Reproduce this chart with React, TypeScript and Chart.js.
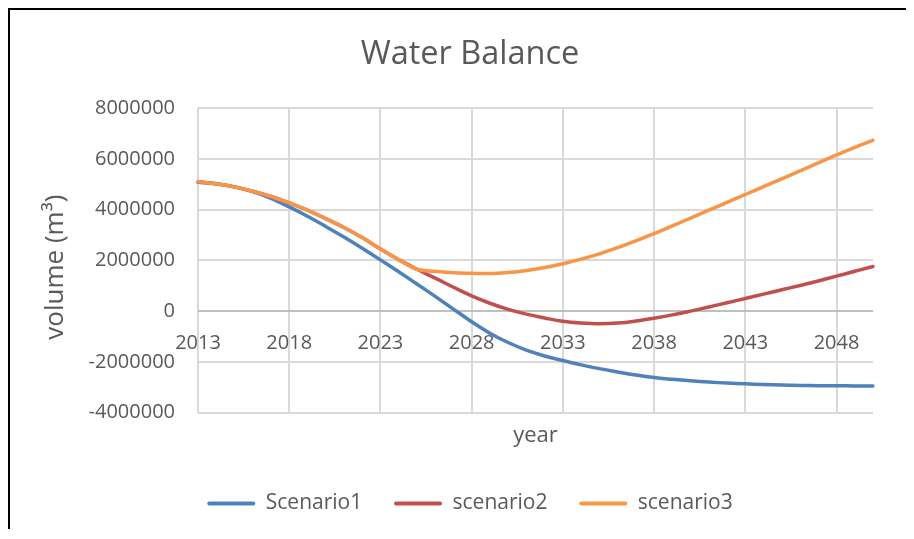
import React, { useEffect, useRef } from 'react';
import { Chart, registerables } from 'chart.js';

Chart.register(...registerables);

const years = [
  '2013', '2014', '2015', '2016', '2017', '2018', '2019', '2020', '2021', '2022',
  '2023', '2024', '2025', '2026', '2027', '2028', '2029', '2030', '2031', '2032',
  '2033', '2034', '2035', '2036', '2037', '2038', '2039', '2040', '2041', '2042',
  '2043', '2044', '2045', '2046', '2047', '2048', '2049', '2050',
];

const scenario1 = [
  5080000, 5020000, 4900000, 4710000, 4450000, 4110000, 3740000, 3340000, 2920000, 2480000,
  2020000, 1550000, 1070000, 580000, 80000, -420000, -870000, -1240000, -1540000, -1770000,
  -1950000, -2120000, -2270000, -2400000, -2520000, -2620000, -2690000, -2750000, -2800000, -2840000,
  -2870000, -2895000, -2915000, -2930000, -2940000, -2945000, -2950000, -2955000,
];

const scenario2 = [
  5100000, 5020000, 4900000, 4730000, 4520000, 4270000, 3980000, 3650000, 3300000, 2900000,
  2450000, 2030000, 1650000, 1300000, 940000, 600000, 310000, 70000, -120000, -270000,
  -400000, -470000, -500000, -470000, -390000, -280000, -150000, 0, 160000, 330000,
  500000, 670000, 840000, 1010000, 1190000, 1380000, 1570000, 1760000,
];

const scenario3 = [
  5100000, 5020000, 4900000, 4730000, 4520000, 4270000, 3980000, 3650000, 3300000, 2900000,
  2450000, 2030000, 1650000, 1570000, 1510000, 1490000, 1480000, 1520000, 1600000, 1720000,
  1870000, 2050000, 2260000, 2500000, 2770000, 3060000, 3360000, 3670000, 3980000, 4290000,
  4600000, 4910000, 5220000, 5530000, 5850000, 6160000, 6460000, 6740000,
];

const seriesNames = ['Scenario1', 'scenario2', 'scenario3'];
const seriesColors = ['#4F81BD', '#C0504D', '#F79646'];
const yTickValues = [-4000000, -2000000, 0, 2000000, 4000000, 6000000, 8000000];

const chartTitle = 'Water Balance';
const xTitle = 'year';
const yTitle = 'volume (m\u00B3)';

export default function App() {
  const ref = useRef<HTMLCanvasElement | null>(null);

  useEffect(() => {
    document.documentElement.style.overflow = 'hidden';
    const FONT = '"Open Sans", "Noto Sans", sans-serif';
    const GREY = '#595959';
    const series = [scenario1, scenario2, scenario3];
    const chart = new Chart(ref.current as HTMLCanvasElement, {
      type: 'line',
      data: {
        labels: years,
        datasets: series.map((d, i) => ({
          label: seriesNames[i],
          data: d,
          borderColor: seriesColors[i],
          backgroundColor: seriesColors[i],
          borderWidth: 3.5,
          pointRadius: 0,
          pointHoverRadius: 0,
          tension: 0.4,
          borderCapStyle: 'round' as const,
          borderJoinStyle: 'round' as const,
          order: 2 - i,
        })),
      },
      options: {
        responsive: false,
        animation: false,
        devicePixelRatio: 1,
        layout: { padding: { left: 16, right: 0, top: 0, bottom: 5 } },
        plugins: {
          title: {
            display: true,
            text: chartTitle,
            color: GREY,
            font: { family: FONT, size: 32.5, weight: 'normal' },
            padding: { top: 25, bottom: 34.3 },
          },
          legend: {
            position: 'bottom',
            labels: {
              boxWidth: 48,
              boxHeight: 4,
              padding: 10,
              color: GREY,
              font: { family: FONT, size: 21 },
              generateLabels: (c: any) =>
                c.data.datasets.map((ds: any, i: number) => ({
                  text: ds.label + (i < c.data.datasets.length - 1 ? '    ' : ''),
                  fillStyle: ds.borderColor,
                  strokeStyle: ds.borderColor,
                  lineWidth: 0,
                  borderRadius: 2,
                  hidden: false,
                  datasetIndex: i,
                  fontColor: GREY,
                })),
            },
          },
          tooltip: { enabled: false },
        },
        scales: {
          x: {
            type: 'category',
            offset: false,
            grid: {
              drawTicks: false,
              lineWidth: 2,
              color: (ctx: any) => (ctx.index % 5 === 0 ? '#D9D9D9' : 'rgba(0,0,0,0)'),
            },
            border: { display: false },
            ticks: { display: false },
            title: {
              display: true,
              text: xTitle,
              color: GREY,
              font: { family: FONT, size: 22 },
              padding: { top: 0, bottom: 34 },
            },
            afterFit: (s: any) => {
              s.height = 70.5;
            },
          },
          x2: {
            type: 'category',
            position: { y: 0 },
            offset: false,
            grid: { display: false },
            border: { display: false },
            ticks: {
              autoSkip: false,
              maxRotation: 0,
              minRotation: 0,
              padding: 12,
              color: GREY,
              font: { family: FONT, size: 20 },
              callback: (_v: any, i: number) => (i % 5 === 0 ? years[i] : ''),
            },
          },
          y: {
            type: 'linear',
            position: 'left',
            min: yTickValues[0],
            max: yTickValues[yTickValues.length - 1],
            grid: {
              drawTicks: false,
              lineWidth: 2,
              color: (ctx: any) => (ctx.tick && ctx.tick.value === 0 ? '#BFBFBF' : '#D9D9D9'),
            },
            border: { display: false },
            ticks: {
              stepSize: yTickValues[1] - yTickValues[0],
              padding: 23,
              color: GREY,
              font: { family: FONT, size: 20 },
              callback: (v: any) => String(v),
            },
            title: {
              display: true,
              text: yTitle + '  ',
              color: GREY,
              font: { family: FONT, size: 26 },
              padding: { top: 14, bottom: 0 },
            },
            afterFit: (s: any) => {
              s.width = 172;
            },
          },
          yR: {
            type: 'linear',
            position: 'right',
            display: true,
            grid: { display: false },
            border: { display: false },
            ticks: { display: false },
            afterFit: (s: any) => {
              s.width = 41;
            },
          },
        },
      } as any,
    });
    return () => chart.destroy();
  }, []);

  return (
    <div
      style={{
        width: 906,
        height: 521,
        boxSizing: 'border-box',
        borderTop: '2px solid #000',
        borderLeft: '2px solid #000',
        background: '#fff',
      }}
    >
      <canvas ref={ref} width={904} height={519} style={{ display: 'block' }} />
    </div>
  );
}
